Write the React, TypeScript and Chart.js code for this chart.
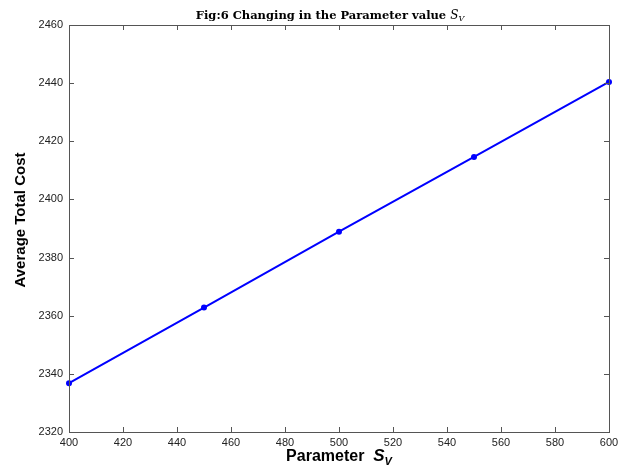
import React, { useEffect, useRef } from "react";
import { Chart, registerables } from "chart.js";

Chart.register(...registerables);

const paramValues = [400, 450, 500, 550, 600];
const avgTotalCost = [2336.8, 2362.8, 2388.9, 2414.6, 2440.4];
const xTickMin = 400;
const xTickMax = 600;
const xTickStep = 20;
const yTickMin = 2320;
const yTickMax = 2460;
const yTickStep = 20;
const titleMain = "Fig:6 Changing in the Parameter value ";
const titleSym = "S";
const titleSub = "V";
const xTitleMain = "Parameter";
const xTitleSym = "S";
const xTitleSub = "V";
const yTitle = "Average Total Cost";

const PLOT_LEFT = 69;
const PLOT_RIGHT = 609;
const PLOT_TOP = 25;
const PLOT_BOTTOM = 432;
const W = 619;
const H = 466;

const boxPlugin = {
  id: "boxAndText",
  afterDraw(chart: any) {
    const ctx = chart.ctx as CanvasRenderingContext2D;
    const a = chart.chartArea;
    const xs = chart.scales.x;
    const ys = chart.scales.y;
    ctx.save();
    ctx.strokeStyle = "#555555";
    ctx.lineWidth = 1;
    ctx.strokeRect(Math.round(a.left) + 0.5, Math.round(a.top) + 0.5, Math.round(a.right - a.left), Math.round(a.bottom - a.top));
    const tl = 5;
    ctx.beginPath();
    xs.ticks.forEach((t: any) => {
      const px = Math.round(xs.getPixelForValue(t.value)) + 0.5;
      ctx.moveTo(px, a.bottom);
      ctx.lineTo(px, a.bottom - tl);
      ctx.moveTo(px, a.top);
      ctx.lineTo(px, a.top + tl);
    });
    ys.ticks.forEach((t: any) => {
      const py = Math.round(ys.getPixelForValue(t.value)) + 0.5;
      ctx.moveTo(a.left, py);
      ctx.lineTo(a.left + tl, py);
      ctx.moveTo(a.right, py);
      ctx.lineTo(a.right - tl, py);
    });
    ctx.stroke();

    ctx.fillStyle = "#000000";
    ctx.textBaseline = "alphabetic";
    ctx.textAlign = "left";

    // title
    const tMainFont = "bold 11.5px 'DejaVu Serif'";
    const tSymFont = "italic 12px 'DejaVu Serif'";
    const tSubFont = "italic 8px 'DejaVu Serif'";
    ctx.font = tMainFont;
    const w1 = ctx.measureText(titleMain).width;
    ctx.font = tSymFont;
    const w2 = ctx.measureText(titleSym).width;
    ctx.font = tSubFont;
    const w3 = ctx.measureText(titleSub).width;
    const tTotal = w1 + w2 + w3;
    let tx = (a.left + a.right) / 2 - 9 - tTotal / 2;
    const ty = 19;
    ctx.font = tMainFont;
    ctx.fillText(titleMain, tx, ty);
    tx += w1;
    ctx.font = tSymFont;
    ctx.fillText(titleSym, tx, ty);
    tx += w2;
    ctx.font = tSubFont;
    ctx.fillText(titleSub, tx, ty + 2);

    // x title
    const xMainFont = "bold 16px 'Liberation Sans'";
    const xSymFont = "bold italic 17px 'Liberation Sans'";
    const xSubFont = "bold italic 11px 'Liberation Sans'";
    ctx.font = xMainFont;
    const xw1 = ctx.measureText(xTitleMain + "  ").width;
    ctx.font = xSymFont;
    const xw2 = ctx.measureText(xTitleSym).width;
    ctx.font = xSubFont;
    const xw3 = ctx.measureText(xTitleSub).width;
    let xx = (a.left + a.right) / 2 - (xw1 + xw2 + xw3) / 2;
    const xy = 461;
    ctx.font = xMainFont;
    ctx.fillText(xTitleMain + "  ", xx, xy);
    xx += xw1;
    ctx.font = xSymFont;
    ctx.fillText(xTitleSym, xx, xy);
    xx += xw2;
    ctx.font = xSubFont;
    ctx.fillText(xTitleSub, xx, xy + 4);

    // y title
    ctx.font = "bold 15px 'Liberation Sans'";
    ctx.textAlign = "center";
    ctx.textBaseline = "middle";
    ctx.translate(21, 220);
    ctx.rotate(-Math.PI / 2);
    ctx.fillText(yTitle, 0, 0);
    ctx.restore();
  },
};

export default function App() {
  const ref = useRef<HTMLCanvasElement | null>(null);
  useEffect(() => {
    if (!ref.current) return;
    const chart = new Chart(ref.current, {
      type: "line",
      data: {
        datasets: [
          {
            data: paramValues.map((x, i) => ({ x, y: avgTotalCost[i] })),
            borderColor: "#0000ff",
            backgroundColor: "#0000ff",
            borderWidth: 2,
            pointRadius: 3,
            pointBorderWidth: 0,
            pointBackgroundColor: "#0000ff",
            tension: 0,
            fill: false,
            clip: false as any,
          },
        ],
      },
      options: {
        animation: false,
        responsive: true,
        maintainAspectRatio: false,
        layout: { padding: { top: PLOT_TOP, right: W - PLOT_RIGHT, left: 0, bottom: 0 } },
        plugins: { legend: { display: false }, tooltip: { enabled: false }, title: { display: false } },
        scales: {
          x: {
            type: "linear",
            min: xTickMin,
            max: xTickMax,
            grid: { display: false, drawTicks: false },
            border: { display: false },
            ticks: {
              stepSize: xTickStep,
              padding: 4,
              color: "#222222",
              font: { family: "'Liberation Sans'", size: 11 },
              maxRotation: 0,
              autoSkip: false,
              callback: (v: any) => String(v),
            },
            afterFit: (s: any) => {
              s.height = H - PLOT_BOTTOM;
              s.paddingRight = 0;
              s.paddingLeft = 0;
            },
          },
          y: {
            type: "linear",
            min: yTickMin,
            max: yTickMax,
            grid: { display: false, drawTicks: false },
            border: { display: false },
            ticks: {
              stepSize: yTickStep,
              padding: 6,
              color: "#222222",
              font: { family: "'Liberation Sans'", size: 11 },
              autoSkip: false,
              callback: (v: any) => String(v),
            },
            afterFit: (s: any) => {
              s.width = PLOT_LEFT;
              s.paddingTop = 0;
              s.paddingBottom = 0;
            },
          },
        },
      },
      plugins: [boxPlugin],
    });
    return () => chart.destroy();
  }, []);
  return (
    <div style={{ position: "fixed", left: 0, top: 0, width: W, height: H, background: "#ffffff" }}>
      <canvas ref={ref} />
    </div>
  );
}
